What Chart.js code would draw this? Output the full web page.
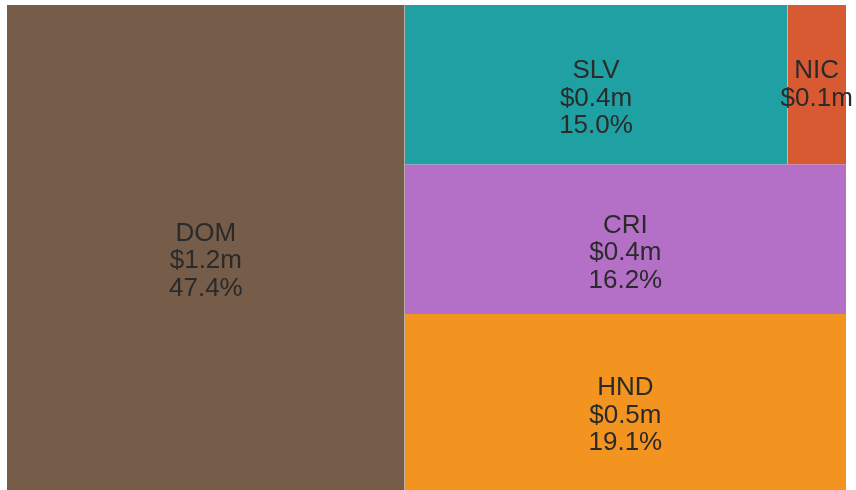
<!DOCTYPE html>
<html>
<head>
<meta charset="utf-8">
<script src="https://cdn.jsdelivr.net/npm/chart.js@4/dist/chart.umd.min.js"></script>
<style>
  html, body { margin: 0; padding: 0; background: #ffffff; }
  #wrap { width: 856px; height: 490px; }
</style>
</head>
<body>
<div id="wrap"><canvas id="tree"></canvas></div>
<script>
// data, largest first
const countries = ['DOM', 'HND', 'CRI', 'SLV', 'NIC'];
const shares = [47.4, 19.1, 16.2, 15.0, 2.3];
const amountLabels = ['$1.2m', '$0.5m', '$0.4m', '$0.4m', '$0.1m'];
const shareLabels = ['47.4%', '19.1%', '16.2%', '15.0%', ''];
const cellColors = { DOM: '#765D49', SLV: '#1FA0A2', NIC: '#D75A33', CRI: '#B370C6', HND: '#F2941F' };

// squarify on a 100 x 100 square (y grows upward)
function worst(sizes, x, y, dx, dy) {
    const rects = layout(sizes, x, y, dx, dy);
    return Math.max(...rects.map(r => Math.max(r.dx / r.dy, r.dy / r.dx)));
}
function layout(sizes, x, y, dx, dy) {
    const total = sizes.reduce((a, b) => a + b, 0);
    const out = [];
    if (dx >= dy) {
        const w = total / dy;
        sizes.forEach(s => { out.push({ x: x, y: y, dx: w, dy: s / w }); y += s / w; });
    } else {
        const h = total / dx;
        sizes.forEach(s => { out.push({ x: x, y: y, dx: s / h, dy: h }); x += s / h; });
    }
    return out;
}
function leftover(sizes, x, y, dx, dy) {
    const total = sizes.reduce((a, b) => a + b, 0);
    if (dx >= dy) {
        const w = total / dy;
        return [x + w, y, dx - w, dy];
    }
    const h = total / dx;
    return [x, y + h, dx, dy - h];
}
function squarify(sizes, x, y, dx, dy) {
    if (sizes.length === 0) return [];
    if (sizes.length === 1) return layout(sizes, x, y, dx, dy);
    let i = 1;
    while (i < sizes.length && worst(sizes.slice(0, i), x, y, dx, dy) >= worst(sizes.slice(0, i + 1), x, y, dx, dy)) i++;
    const cur = sizes.slice(0, i);
    const rest = sizes.slice(i);
    const lo = leftover(cur, x, y, dx, dy);
    return layout(cur, x, y, dx, dy).concat(squarify(rest, lo[0], lo[1], lo[2], lo[3]));
}

const sum = shares.reduce((a, b) => a + b, 0);
const rects = squarify(shares.map(v => v / sum * 10000), 0, 0, 100, 100);

// each cell: a flat line along its top edge, filled down to its bottom edge
const datasets = rects.map((r, i) => ({
    label: countries[i],
    data: [{ x: r.x, y: r.y + r.dy }, { x: r.x + r.dx, y: r.y + r.dy }],
    fill: { value: r.y },
    backgroundColor: cellColors[countries[i]],
    borderWidth: 0,
    pointRadius: 0,
    tension: 0
}));

const cellLabels = {
    id: 'cellLabels',
    afterDatasetsDraw(chart) {
        const { ctx, scales } = chart;
        ctx.save();
        ctx.font = '26px "Liberation Sans", Arial, sans-serif';
        ctx.fillStyle = '#2a2a2a';
        ctx.textAlign = 'center';
        ctx.textBaseline = 'middle';
        rects.forEach((r, i) => {
            const cx = scales.x.getPixelForValue(r.x + r.dx / 2);
            const cy = scales.y.getPixelForValue(r.y + r.dy / 2);
            const lines = [countries[i], amountLabels[i], shareLabels[i]].filter(t => t);
            lines.forEach((t, k) => ctx.fillText(t, cx, cy + (k - 0.5) * 27.5));
        });
        ctx.restore();
    }
};

new Chart(document.getElementById('tree'), {
    type: 'line',
    data: { datasets: datasets },
    options: {
        responsive: true,
        maintainAspectRatio: false,
        animation: false,
        layout: { padding: { left: 7, top: 5, right: 10, bottom: 0 } },
        plugins: {
            legend: { display: false },
            tooltip: { enabled: false }
        },
        scales: {
            x: { type: 'linear', min: 0, max: 100, display: false },
            y: { type: 'linear', min: 0, max: 100, display: false }
        }
    },
    plugins: [cellLabels]
});
</script>
</body>
</html>
